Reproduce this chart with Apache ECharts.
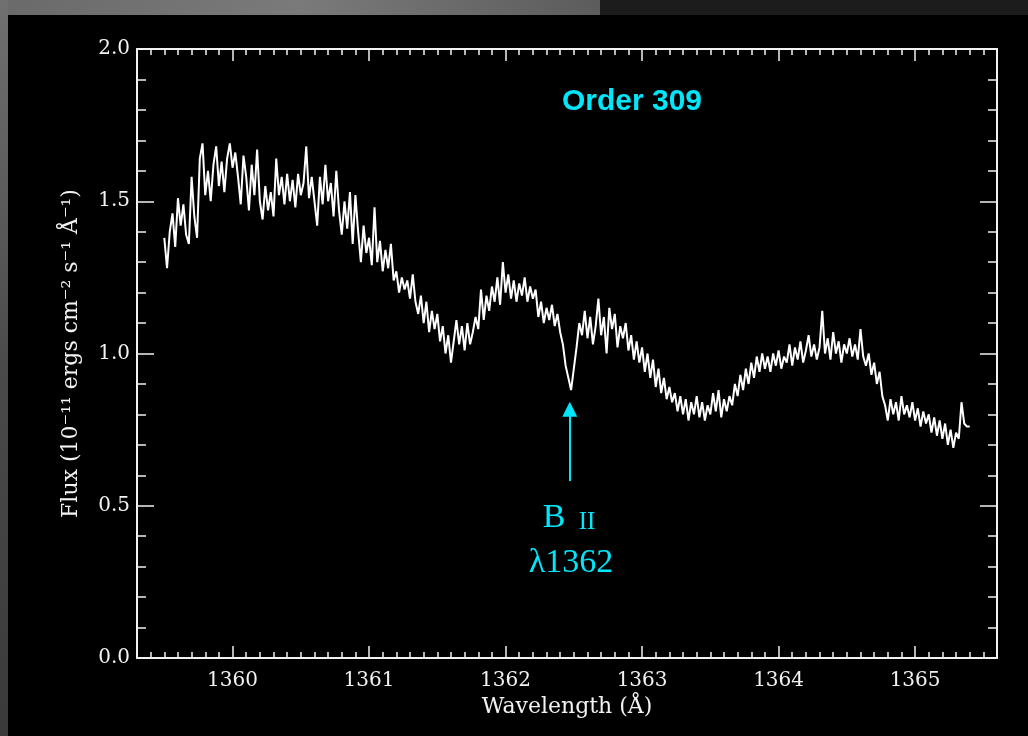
<!DOCTYPE html>
<html>
<head>
<meta charset="utf-8">
<script src="https://cdn.jsdelivr.net/npm/echarts@6/dist/echarts.min.js"></script>
<style>
html,body{margin:0;padding:0;background:#000;}
#chart{width:1028px;height:736px;}
</style>
</head>
<body>
<div id="chart"></div>
<script>
// Wavelength sampling (Å)
const WL_START = 1359.50;
const WL_STEP = 0.02;
// Flux (1e-11 ergs cm^-2 s^-1 Å^-1), one row per 0.2 Å starting at the commented wavelength
const flux = [
  /*1359.50*/ 1.38,1.28,1.40,1.46,1.35,1.51,1.42,1.49,1.39,1.36,
  /*1359.70*/ 1.58,1.45,1.38,1.64,1.69,1.52,1.60,1.50,1.62,1.68,
  /*1359.90*/ 1.55,1.63,1.53,1.64,1.69,1.61,1.66,1.58,1.49,1.65,
  /*1360.10*/ 1.58,1.47,1.62,1.52,1.67,1.50,1.44,1.55,1.47,1.53,
  /*1360.30*/ 1.45,1.64,1.52,1.58,1.49,1.59,1.50,1.57,1.48,1.59,
  /*1360.50*/ 1.52,1.56,1.68,1.51,1.58,1.50,1.42,1.58,1.49,1.62,
  /*1360.70*/ 1.50,1.56,1.45,1.60,1.47,1.39,1.50,1.41,1.53,1.36,
  /*1360.90*/ 1.52,1.40,1.30,1.42,1.33,1.38,1.29,1.48,1.30,1.37,
  /*1361.10*/ 1.27,1.34,1.28,1.36,1.24,1.27,1.20,1.25,1.21,1.24,
  /*1361.30*/ 1.18,1.26,1.17,1.13,1.19,1.10,1.17,1.07,1.14,1.08,
  /*1361.50*/ 1.13,1.04,1.09,1.00,1.06,0.97,1.04,1.11,1.03,1.09,
  /*1361.70*/ 1.01,1.10,1.03,1.07,1.12,1.08,1.21,1.11,1.19,1.14,
  /*1361.90*/ 1.22,1.17,1.25,1.16,1.30,1.20,1.26,1.18,1.24,1.17,
  /*1362.10*/ 1.23,1.19,1.25,1.17,1.22,1.18,1.21,1.12,1.17,1.10,
  /*1362.30*/ 1.15,1.11,1.16,1.09,1.13,1.07,1.03,0.96,0.92,0.88,
  /*1362.50*/ 0.95,1.02,1.10,1.06,1.14,1.05,1.12,1.03,1.09,1.18,
  /*1362.70*/ 1.06,1.12,1.00,1.15,1.08,1.13,1.02,1.09,1.05,1.10,
  /*1362.90*/ 1.01,1.06,0.98,1.04,0.97,1.02,0.94,1.00,0.92,0.98,
  /*1363.10*/ 0.89,0.95,0.87,0.92,0.85,0.89,0.84,0.87,0.81,0.86,
  /*1363.30*/ 0.80,0.85,0.78,0.84,0.80,0.86,0.79,0.84,0.78,0.83,
  /*1363.50*/ 0.80,0.87,0.81,0.88,0.79,0.85,0.81,0.86,0.83,0.90,
  /*1363.70*/ 0.86,0.93,0.88,0.95,0.90,0.97,0.92,0.99,0.94,1.00,
  /*1363.90*/ 0.95,0.99,0.94,1.00,0.96,1.01,0.95,0.99,0.97,1.03,
  /*1364.10*/ 0.96,1.02,0.98,1.04,0.97,1.01,1.06,0.99,1.03,0.98,
  /*1364.30*/ 1.02,1.14,1.00,1.05,0.98,1.07,1.00,1.04,0.97,1.03,
  /*1364.50*/ 1.00,1.05,0.99,1.03,0.98,1.08,0.99,0.96,1.00,0.93,
  /*1364.70*/ 0.97,0.90,0.94,0.86,0.83,0.78,0.85,0.80,0.84,0.78,
  /*1364.90*/ 0.86,0.80,0.83,0.79,0.84,0.78,0.82,0.76,0.81,0.77,
  /*1365.10*/ 0.80,0.74,0.79,0.73,0.78,0.72,0.77,0.70,0.75,0.69,
  /*1365.30*/ 0.74,0.72,0.84,0.77,0.76,0.76
];
const xMajorTicks = [1360, 1361, 1362, 1363, 1364, 1365];
const yTickLabels = ['0.0', '0.5', '1.0', '1.5', '2.0'];
const X_MIN = 1359.3, X_MAX = 1365.6;
const Y_MIN = 0, Y_MAX = 2.0;
// Annotation: B II line
const LINE_WL = 1362.47;
const ARROW_FROM = 0.581, ARROW_TO = 0.817;

const CYAN = '#00E6FA';
const FG = '#f2f2f2';

const seriesData = flux.map((f, i) => [Math.round((WL_START + i * WL_STEP) * 100) / 100, f]);

const serif = 'DejaVu Serif';

function xAxisDef(pos, major) {
  const a = {
    type: 'value', position: pos, min: X_MIN, max: X_MAX,
    axisLine: { show: major, lineStyle: { color: FG, width: 2 } },
    splitLine: { show: false },
    axisLabel: { show: false },
    axisTick: { show: true, inside: true, length: major ? 12 : 6, lineStyle: { color: FG, width: 1.5 } }
  };
  if (major) {
    a.axisTick.customValues = xMajorTicks;
  } else {
    a.interval = 0.1;
  }
  return a;
}

const xAxes = [xAxisDef('bottom', true), xAxisDef('bottom', false), xAxisDef('top', true), xAxisDef('top', false)];
xAxes[0].axisLabel = {
  show: true, customValues: xMajorTicks, formatter: v => String(Math.round(v)),
  color: FG, fontFamily: serif, fontSize: 20, margin: 13
};
xAxes[0].name = 'Wavelength (Å)';
xAxes[0].nameLocation = 'middle';
xAxes[0].nameGap = 38;
xAxes[0].nameTextStyle = { color: FG, fontFamily: serif, fontSize: 22, verticalAlign: 'top' };

function yAxisDef(pos, main) {
  return {
    type: 'value', position: pos, min: Y_MIN, max: Y_MAX, interval: 0.5,
    axisLine: { show: true, lineStyle: { color: FG, width: 2 } },
    splitLine: { show: false },
    axisTick: { show: true, inside: true, length: 17, lineStyle: { color: FG, width: 1.5 } },
    minorTick: { show: true, splitNumber: 5, length: 9, lineStyle: { color: FG, width: 1.5 } },
    axisLabel: main ? {
      show: true, color: FG, fontFamily: serif, fontSize: 20, margin: 7,
      formatter: v => yTickLabels[Math.round(v / 0.5)]
    } : { show: false },
    name: main ? 'Flux (10⁻¹¹ ergs cm⁻² s⁻¹ Å⁻¹)' : '',
    nameLocation: 'middle',
    nameGap: 55,
    nameTextStyle: { color: FG, fontFamily: serif, fontSize: 22 }
  };
}

const chart = echarts.init(document.getElementById('chart'), null, { renderer: 'canvas' });
chart.setOption({
  backgroundColor: '#000',
  animation: false,
  grid: { left: 137, right: 31, top: 49, bottom: 78, containLabel: false },
  xAxis: xAxes,
  yAxis: [yAxisDef('left', true), yAxisDef('right', false)],
  graphic: [
    { type: 'rect', left: 0, top: 0, z: -10, shape: { width: 600, height: 15 },
      style: { fill: new echarts.graphic.LinearGradient(0, 0, 1, 0, [
        { offset: 0, color: '#6a6a6a' }, { offset: 0.5, color: '#7a7a7a' }, { offset: 1, color: '#5c5c5c' }]) } },
    { type: 'rect', left: 600, top: 0, z: -10, shape: { width: 428, height: 15 }, style: { fill: '#1c1c1c' } },
    { type: 'rect', left: 0, top: 0, z: -10, shape: { width: 8, height: 736 },
      style: { fill: new echarts.graphic.LinearGradient(0, 0, 0, 1, [
        { offset: 0, color: '#707070' }, { offset: 0.5, color: '#4a4a4a' }, { offset: 1, color: '#3a3a3a' }]) } },
    { type: 'text', x: 632, y: 102, z: 10,
      style: { text: 'Order 309', fill: CYAN, font: 'bold 30px "Liberation Sans", Arial, sans-serif', align: 'center', verticalAlign: 'middle' } },
    { type: 'text', x: 554, y: 518, z: 10,
      style: { text: 'B', fill: CYAN, font: '34px "Liberation Serif", serif', align: 'center', verticalAlign: 'middle' } },
    { type: 'text', x: 587, y: 522, z: 10,
      style: { text: 'II', fill: CYAN, font: '25px "Liberation Serif", serif', align: 'center', verticalAlign: 'middle' } },
    { type: 'text', x: 571, y: 563, z: 10,
      style: { text: 'λ1362', fill: CYAN, font: '34px "Liberation Serif", serif', align: 'center', verticalAlign: 'middle' } }
  ],
  series: [{
    type: 'line',
    xAxisIndex: 0, yAxisIndex: 0,
    data: seriesData,
    showSymbol: false, symbol: 'none',
    lineStyle: { color: '#ffffff', width: 2 },
    silent: true,
    markLine: {
      silent: true,
      symbol: ['none', 'triangle'],
      symbolSize: 15,
      label: { show: false },
      lineStyle: { color: CYAN, width: 2, type: 'solid' },
      data: [[{ coord: [LINE_WL, ARROW_FROM] }, { coord: [LINE_WL, ARROW_TO] }]]
    }
  }]
});
</script>
</body>
</html>
